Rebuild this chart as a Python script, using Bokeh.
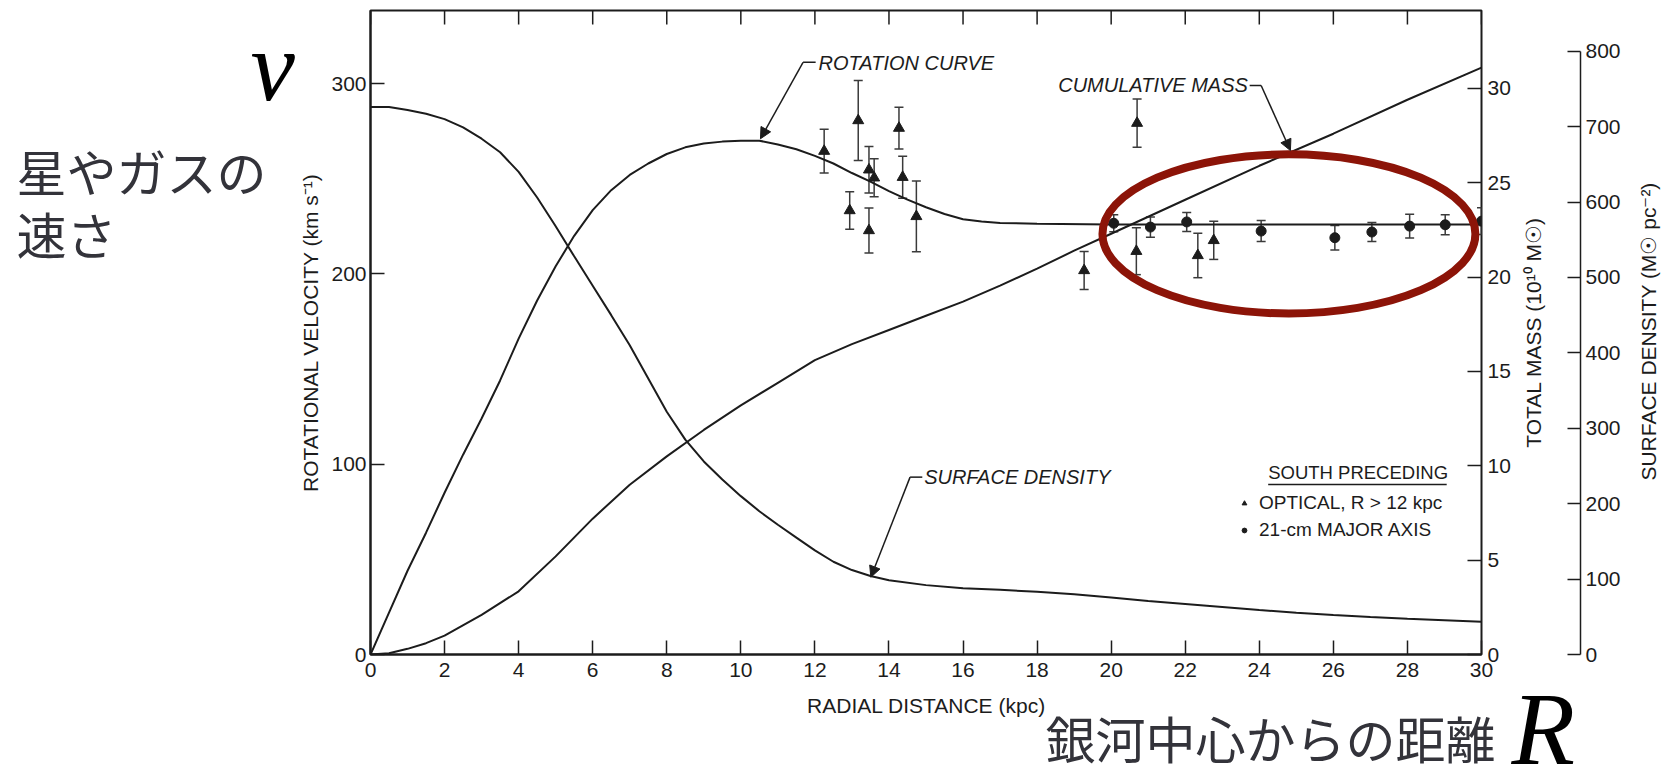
import numpy as np
from bokeh.plotting import figure
from bokeh.layouts import row, column
from bokeh.models import (Range1d, LinearAxis, FixedTicker, Whisker, TeeHead,
                          ColumnDataSource, Label, Arrow, NormalHead, Legend, LegendItem)
from bokeh.embed import file_html
from bokeh.resources import INLINE

# ------------------------------------------------------------------ data
rotation_radius_kpc = [0, 0.5, 1, 1.5, 2, 2.5, 3, 3.5, 4, 4.5, 5, 5.5, 6, 6.5, 7, 7.5, 8,
                       8.5, 9, 9.5, 10, 10.5, 11, 11.5, 12, 12.5, 13, 13.5, 14, 14.5, 15,
                       15.5, 16, 16.5, 17, 18, 20, 22, 24, 26, 28, 30]
rotation_velocity_kms = [0, 22, 44, 64, 85, 105, 124, 144, 166, 186, 204, 220, 233.5, 244,
                         252, 258, 263, 266.5, 268.5, 269.5, 270, 270, 268, 265.5, 262, 258,
                         253, 248.5, 243.5, 239, 235, 231.5, 228.7, 227.5, 226.8, 226.3,
                         226, 226, 226, 226, 226, 226]

density_radius_kpc = [0, 0.5, 1, 1.5, 2, 2.5, 3, 3.5, 4, 4.5, 5, 5.5, 6, 6.5, 7, 7.5, 8,
                      8.5, 9, 9.5, 10, 10.5, 11, 11.5, 12, 12.5, 13, 13.5, 14, 15, 16, 17,
                      18, 19, 20, 21, 22, 23, 24, 25, 26, 27, 28, 29, 30]
surface_density = [726, 726, 722, 717, 710, 699, 684, 666, 640, 606, 568, 528, 489, 450,
                   410, 366, 322, 285, 256, 232, 210, 190, 172, 155, 138, 123, 112, 104,
                   98.5, 92, 88, 85.8, 83.2, 80, 75.5, 71, 67, 63, 59, 55.3, 52.5, 49.8,
                   47.5, 45.5, 43.5]

mass_radius_kpc = [0, 0.5, 1, 1.5, 2, 3, 4, 5, 6, 7, 8, 9, 10, 11, 12, 13, 14, 15, 16, 17,
                   18, 19, 20, 22, 24, 26, 28, 30]
cumulative_mass = [0, 0.07, 0.3, 0.6, 1.0, 2.1, 3.35, 5.2, 7.2, 9.0, 10.5, 11.9, 13.2,
                   14.4, 15.6, 16.45, 17.2, 17.95, 18.7, 19.55, 20.45, 21.4, 22.3, 24.1,
                   25.9, 27.6, 29.4, 31.1]

optical_radius_kpc = [12.25, 12.94, 13.17, 13.46, 13.46, 13.6, 14.27, 14.37, 14.74,
                      19.27, 20.68, 20.70, 22.34, 22.77]
optical_velocity_kms = [264.5, 233.3, 280.6, 222.8, 254.7, 250.5, 276.6, 250.8, 230.2,
                        201.8, 211.9, 279.2, 209.7, 217.6]
optical_error_kms = [11.5, 9.8, 21, 11.8, 12.2, 10, 11, 11, 18.6, 10, 12.3, 12.7, 11.7, 10]

hi_radius_kpc = [20.07, 21.06, 22.04, 24.05, 26.04, 27.04, 28.06, 29.02, 30.0]
hi_velocity_kms = [226.6, 224.6, 227.3, 222.5, 219.0, 222.0, 225.1, 225.8, 227.7]
hi_error_kms = [4.5, 5.3, 5.0, 5.5, 6.4, 5.0, 6.3, 5.3, 7.0]

radius_ticks = list(range(0, 31, 2))
velocity_ticks = [0, 100, 200, 300]
mass_ticks = [0, 5, 10, 15, 20, 25, 30]
density_ticks = [0, 100, 200, 300, 400, 500, 600, 700, 800]

# ------------------------------------------------------------------ style
INK = "#1c1c1c"
BAR = "#3a3a3a"
JP = "#33333a"
SANS = "Liberation Sans"
SERIF = "Liberation Serif"
CJK = "Noto Sans CJK JP"
VEL_MAX = 338.4
MASS_MAX = 34.13
DENS_MAX = 854.0
TOP_TICK = 7.4          # length of the top-edge ticks, in km/s

TOP_H, BOTTOM_H = 688, 84
LEFT_W, MAIN_W, MID_W, RIGHT_W = 296, 1217, 112, 43
FRAME_TOP, FRAME_BOTTOM = 10, 34


def blank(width, height):
    f = figure(width=width, height=height, output_backend="svg", toolbar_location=None,
               x_range=Range1d(0, width), y_range=Range1d(0, height),
               x_axis_location=None, y_axis_location=None, min_border=0,
               outline_line_color=None, background_fill_color="white",
               border_fill_color="white")
    f.grid.visible = False
    return f


def style_axis(ax, size="21px"):
    ax.major_tick_in = 14
    ax.major_tick_out = 0
    ax.minor_tick_line_color = None
    ax.major_tick_line_color = INK
    ax.major_tick_line_width = 1.5
    ax.axis_line_color = INK
    ax.axis_line_width = 2
    ax.major_label_text_font = SANS
    ax.major_label_text_font_size = size
    ax.major_label_text_color = INK
    ax.axis_label_text_font = SANS
    ax.axis_label_text_font_size = "21px"
    ax.axis_label_text_font_style = "normal"
    ax.axis_label_text_color = INK


# ------------------------------------------------------------------ main panel
p = figure(width=MAIN_W, height=TOP_H, output_backend="svg", toolbar_location=None,
           x_range=Range1d(0, 30), y_range=Range1d(0, VEL_MAX),
           min_border_left=71, min_border_right=32, min_border_top=FRAME_TOP,
           min_border_bottom=FRAME_BOTTOM, background_fill_color="white",
           border_fill_color="white")
p.extra_y_ranges = {"mass": Range1d(0, MASS_MAX), "density": Range1d(0, DENS_MAX)}
p.grid.visible = False
p.outline_line_color = INK
p.outline_line_width = 2

xa = p.xaxis[0]
style_axis(xa)
xa.ticker = FixedTicker(ticks=radius_ticks)
xa.major_label_standoff = 8

ya = p.yaxis[0]
style_axis(ya)
ya.ticker = FixedTicker(ticks=velocity_ticks)
ya.major_label_standoff = 4
ya.axis_label = "ROTATIONAL VELOCITY (km s\u207b\u00b9)"
ya.axis_label_standoff = 6

mass_axis = LinearAxis(y_range_name="mass", ticker=FixedTicker(ticks=mass_ticks))
style_axis(mass_axis)
mass_axis.major_label_standoff = 6
mass_axis.axis_line_color = None
p.add_layout(mass_axis, "right")

# ticks along the top edge, one per radius tick
p.segment(x0=radius_ticks, y0=[VEL_MAX] * len(radius_ticks), x1=radius_ticks,
          y1=[VEL_MAX - TOP_TICK] * len(radius_ticks), line_color=INK, line_width=1.5)

# curves
p.line(rotation_radius_kpc, rotation_velocity_kms, line_color=INK, line_width=2)
p.line(density_radius_kpc, surface_density, y_range_name="density",
       line_color=INK, line_width=2)
p.line(mass_radius_kpc, cumulative_mass, y_range_name="mass",
       line_color=INK, line_width=2)

# data points with error bars
opt_src = ColumnDataSource(dict(
    r=optical_radius_kpc, v=optical_velocity_kms,
    lo=[v - e for v, e in zip(optical_velocity_kms, optical_error_kms)],
    hi=[v + e for v, e in zip(optical_velocity_kms, optical_error_kms)]))
hi_src = ColumnDataSource(dict(
    r=hi_radius_kpc, v=hi_velocity_kms,
    lo=[v - e for v, e in zip(hi_velocity_kms, hi_error_kms)],
    hi=[v + e for v, e in zip(hi_velocity_kms, hi_error_kms)]))

for src in (opt_src, hi_src):
    p.add_layout(Whisker(source=src, base="r", lower="lo", upper="hi",
                         line_color=BAR, line_width=1.5,
                         upper_head=TeeHead(size=9, line_color=BAR, line_width=1.5),
                         lower_head=TeeHead(size=9, line_color=BAR, line_width=1.5)))

tri = p.scatter("r", "v", source=opt_src, marker="triangle", size=11,
                fill_color=INK, line_color=INK)
dot = p.scatter("r", "v", source=hi_src, marker="circle", size=10,
                fill_color=INK, line_color=INK)

# legend
legend = Legend(items=[LegendItem(label="OPTICAL, R > 12 kpc", renderers=[tri]),
                       LegendItem(label="21-cm MAJOR AXIS", renderers=[dot])],
                location=(868, 112), orientation="vertical",
                glyph_width=12, glyph_height=24, label_height=24, spacing=3,
                label_standoff=9, padding=0, margin=0,
                border_line_color=None, background_fill_alpha=0,
                label_text_font=SANS, label_text_font_size="19px",
                label_text_color=INK)
p.add_layout(legend)
p.add_layout(Label(x=24.24, y=95.8, text="SOUTH PRECEDING", text_font=SANS,
                   text_font_size="18.5px", text_color=INK, text_baseline="middle"))
p.line([24.24, 29.06], [89.3, 89.3], line_color=INK, line_width=1.5)


def curve_label(x, y, text):
    p.add_layout(Label(x=x, y=y, text=text, text_font=SANS, text_font_size="20px",
                       text_font_style="italic", text_color=INK, text_baseline="middle"))


def leader(x0, x1, y0, xt, yt):
    p.line([x0, x1], [y0, y0], line_color=INK, line_width=1.5)
    p.add_layout(Arrow(x_start=x1, y_start=y0, x_end=xt, y_end=yt, line_color=INK,
                       line_width=1.5,
                       end=NormalHead(size=11, fill_color=INK, line_color=INK)))


curve_label(12.1, 310.8, "ROTATION CURVE")
leader(12.02, 11.68, 311.2, 10.53, 271.0)
curve_label(18.57, 299.0, "CUMULATIVE MASS")
leader(23.74, 24.05, 299.0, 24.84, 264.8)
curve_label(14.95, 93.2, "SURFACE DENSITY")
leader(14.9, 14.57, 93.2, 13.51, 40.6)

# highlight ellipse
ELLIPSE_X, ELLIPSE_Y, ELLIPSE_W, ELLIPSE_H = 24.80, 221.0, 10.07, 83.6
p.ellipse(x=[ELLIPSE_X], y=[ELLIPSE_Y], width=[ELLIPSE_W], height=[ELLIPSE_H],
          fill_color=None, line_color="#8c1408", line_width=8)

# ------------------------------------------------------------------ mass title + density axis
mid = figure(width=MID_W, height=TOP_H, output_backend="svg", toolbar_location=None,
             x_range=Range1d(0, 67), y_range=Range1d(0, DENS_MAX),
             x_axis_location=None, y_axis_location=None,
             min_border_left=0, min_border_right=45, min_border_top=FRAME_TOP,
             min_border_bottom=FRAME_BOTTOM, outline_line_color=None,
             background_fill_color="white", border_fill_color="white")
mid.grid.visible = False
dens_axis = LinearAxis(ticker=FixedTicker(ticks=density_ticks), bounds=(0, 800))
style_axis(dens_axis)
dens_axis.major_tick_in = 13
dens_axis.major_label_standoff = 5
dens_axis.axis_line_width = 1.5
mid.add_layout(dens_axis, "right")
mid.add_layout(Label(x=20, y=DENS_MAX * 0.5, text="TOTAL MASS (10\u00b9\u2070 M\u2609)",
                     angle=np.pi / 2, text_align="center", text_baseline="middle",
                     text_font=SANS, text_font_size="21px", text_color=INK))

right = blank(RIGHT_W, TOP_H)
right.add_layout(Label(x=23, y=343, text="SURFACE DENSITY (M\u2609 pc\u207b\u00b2)",
                       angle=np.pi / 2, text_align="center", text_baseline="middle",
                       text_font=SANS, text_font_size="21px", text_color=INK))

# ------------------------------------------------------------------ left annotations
left = blank(LEFT_W, TOP_H + BOTTOM_H)
left.add_layout(Label(x=250, y=706, text="v", text_font=SERIF, text_font_size="100px",
                      text_font_style="italic", text_color="black",
                      text_baseline="middle"))
left.add_layout(Label(x=16, y=603, text="星やガスの", text_font=CJK,
                      text_font_size="50px", text_color=JP, text_baseline="middle"))
left.add_layout(Label(x=16, y=540, text="速さ", text_font=CJK,
                      text_font_size="50px", text_color=JP, text_baseline="middle"))

# ------------------------------------------------------------------ bottom annotations
bottom = blank(MAIN_W + MID_W + RIGHT_W, BOTTOM_H)
bottom.add_layout(Label(x=630, y=67, text="RADIAL DISTANCE (kpc)", text_font=SANS,
                        text_font_size="21px", text_color=INK, text_align="center",
                        text_baseline="middle"))
bottom.add_layout(Label(x=749, y=36, text="銀河中心からの距離", text_font=CJK,
                        text_font_size="50px", text_color=JP, text_baseline="middle"))
bottom.add_layout(Label(x=1215, y=44, text="R", text_font=SERIF, text_font_size="104px",
                        text_font_style="italic", text_color="black",
                        text_baseline="middle"))

layout = row(left, column(row(p, mid, right), bottom))
open("out.html", "w").write(file_html(layout, INLINE))
